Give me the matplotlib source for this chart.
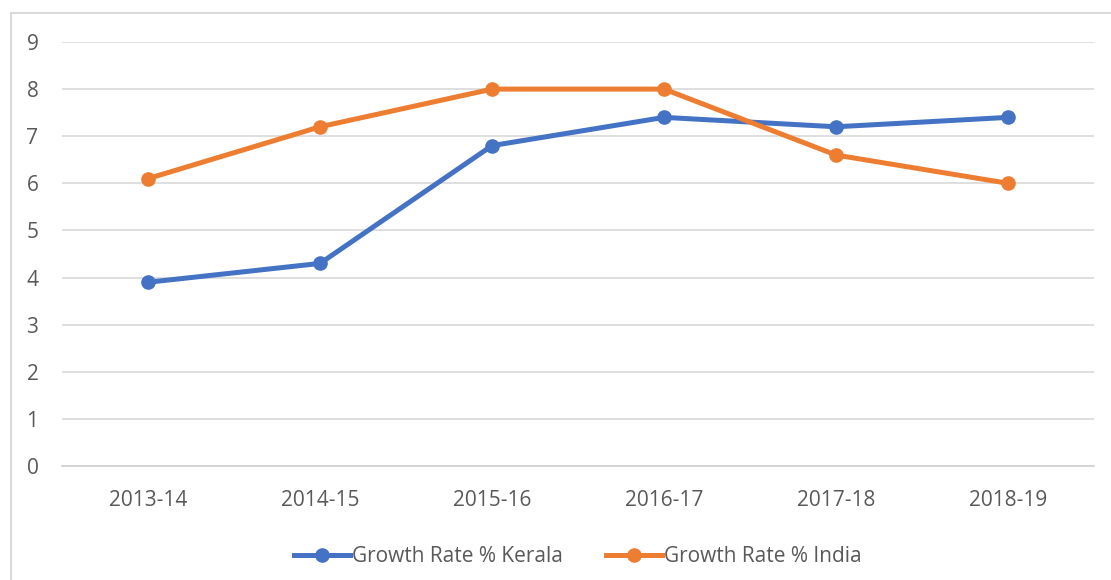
import matplotlib.pyplot as plt
import numpy as np

years = ['2013-14', '2014-15', '2015-16', '2016-17', '2017-18', '2018-19']
kerala = [3.9, 4.3, 6.8, 7.4, 7.2, 7.4]
india = [6.1, 7.2, 8.0, 8.0, 6.6, 6.0]

plt.rcParams['font.family'] = ['Open Sans', 'DejaVu Sans']

fig = plt.figure(figsize=(11.11, 5.8), dpi=100)
ax = fig.add_axes([0.0558, 0.1966, 0.929, 0.731])

x = np.arange(len(years))
ax.plot(x, kerala, color='#4472C4', lw=3.6, marker='o', ms=9.5, label='Growth Rate % Kerala')
ax.plot(x, india, color='#ED7D31', lw=3.6, marker='o', ms=9.5, label='Growth Rate % India')

ax.set_xlim(-0.5, len(years) - 0.5)
ax.set_ylim(0, 9)
ax.set_yticks(range(0, 10))
ax.set_xticks(x)
ax.set_xticklabels(years)
ax.grid(axis='y', color='#d9d9d9', lw=1.2)
ax.set_axisbelow(True)
for s in ['top', 'right', 'left']:
    ax.spines[s].set_visible(False)
ax.spines['bottom'].set_color('#d0d0d0')
ax.spines['bottom'].set_linewidth(1.2)
ax.tick_params(axis='both', length=0, labelsize=15, colors='#595959')
ax.tick_params(axis='x', pad=17)
ax.tick_params(axis='y', pad=17)

leg = ax.legend(loc='center', bbox_to_anchor=(0.5, -0.214), ncol=2, frameon=False,
                fontsize=15, handlelength=2.7, columnspacing=2.05, handletextpad=0.1)
for t in leg.get_texts():
    t.set_color('#595959')

# light frame around the chart area (cut off at right and bottom)
fig.patches.append(plt.Rectangle((11 / 1111, -0.1), 1.2, 1.1 - 13 / 580,
                                 transform=fig.transFigure, fill=False,
                                 edgecolor='#d9d9d9', lw=1.5))

fig.savefig('out.png', dpi=100)
